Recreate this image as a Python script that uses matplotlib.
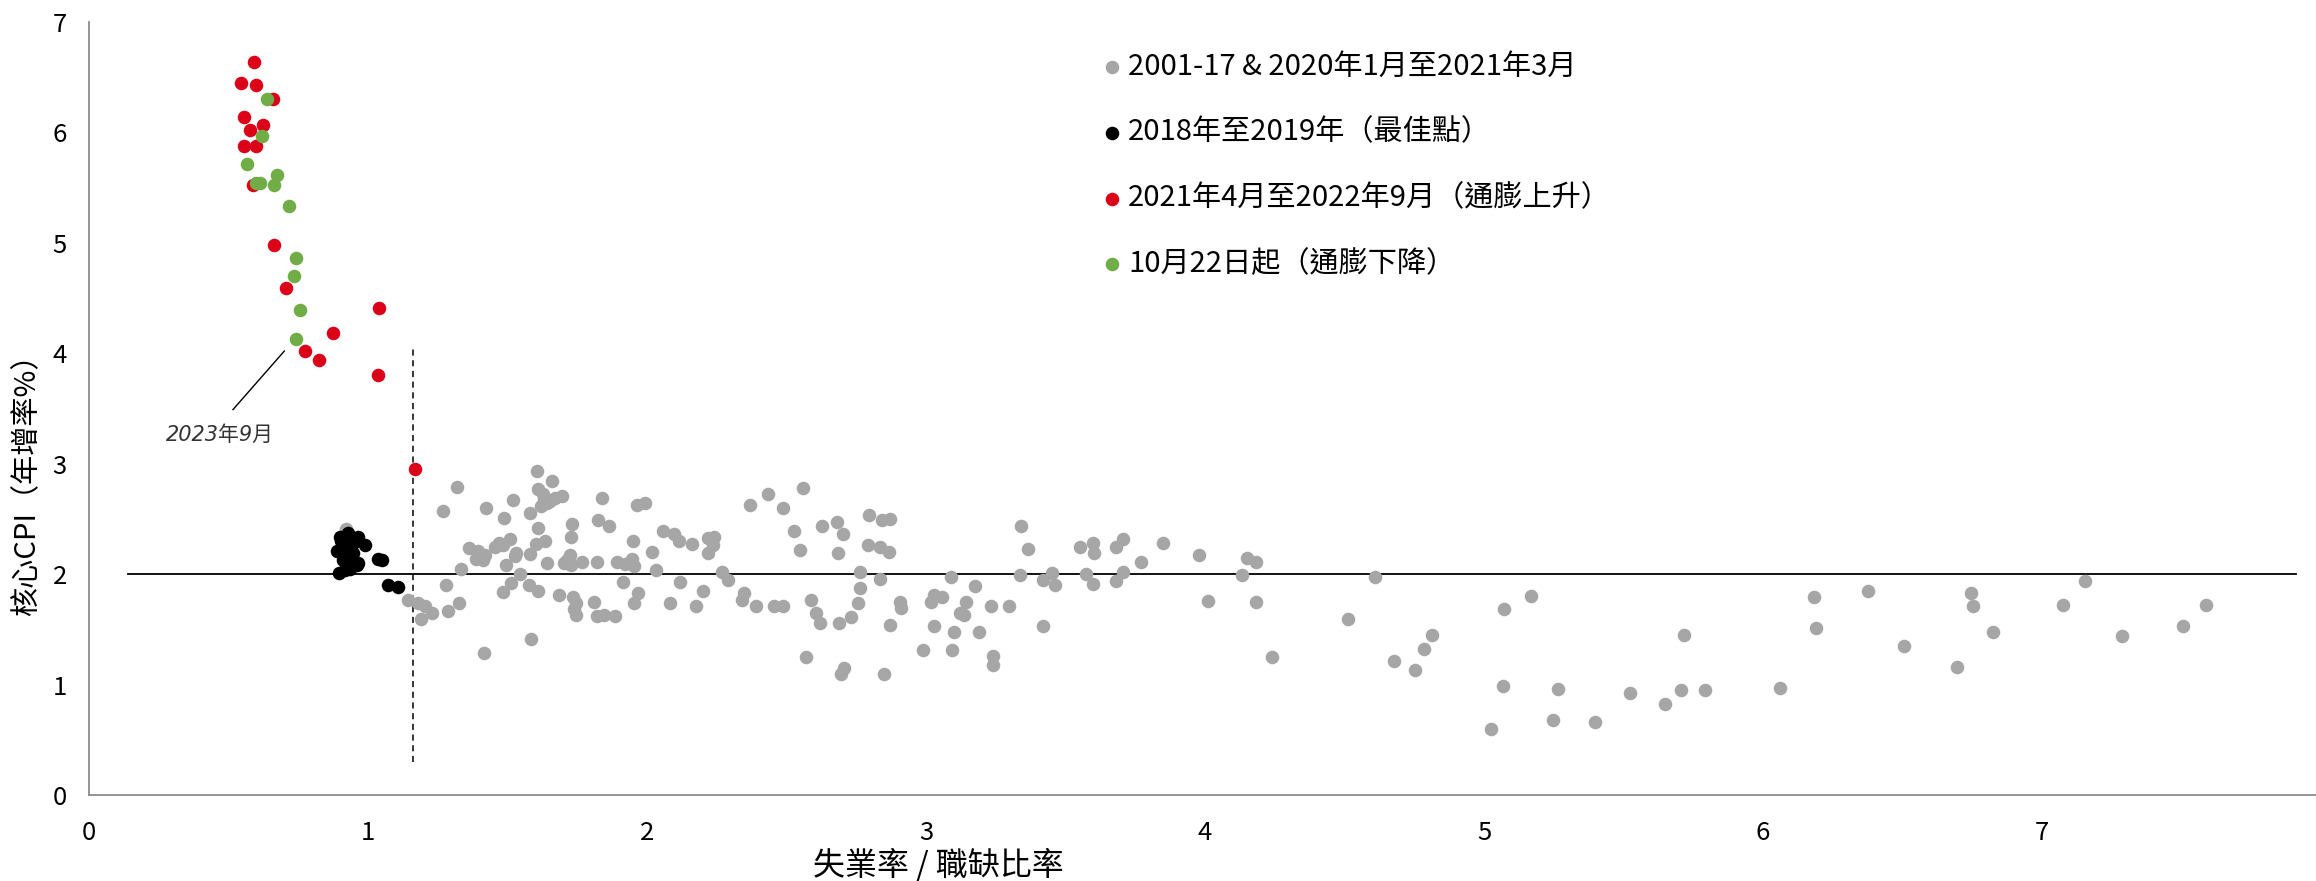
import matplotlib
matplotlib.use('Agg')
import matplotlib.pyplot as plt

# 字體：中文用 Noto Sans CJK TC，缺字時退回 DejaVu Sans
plt.rcParams['font.family'] = ['Noto Sans CJK TC', 'DejaVu Sans']
plt.rcParams['axes.unicode_minus'] = False

# 2001-17 & 2020年1月至2021年3月（灰）
gray_x = [0.92, 1.144, 1.180, 1.191, 1.205, 1.228, 1.268, 1.279, 1.287, 1.320, 1.327, 1.334,
          1.363, 1.393, 1.386, 1.411, 1.420, 1.416, 1.424, 1.454, 1.468, 1.485,
          1.485, 1.489, 1.493, 1.509, 1.514, 1.520, 1.527, 1.530, 1.545, 1.578, 1.582, 1.582,
          1.585, 1.603, 1.633, 1.608, 1.609, 1.607, 1.608, 1.626,
          1.619, 1.640, 1.654, 1.670, 1.695, 1.630,
          1.642, 1.659, 1.685, 1.701, 1.725, 1.729, 1.715, 1.726, 1.732,
          1.733, 1.745, 1.740, 1.745, 1.767, 1.811, 1.819, 1.845, 1.885, 1.821, 1.825, 1.837, 1.863,
          1.894, 1.921, 1.948, 1.955, 1.913, 1.950, 1.955, 1.966, 1.965, 1.992, 2.017, 2.032,
          2.058, 2.083, 2.096, 2.113, 2.118, 2.161, 2.177, 2.201,
          2.22, 2.24, 2.235, 2.22, 2.268, 2.289, 2.339, 2.349, 2.369, 2.391, 2.435, 2.456,
          2.487, 2.489, 2.527, 2.549, 2.559, 2.570, 2.589, 2.607, 2.620, 2.627, 2.680, 2.685,
          2.689, 2.696, 2.705, 2.703, 2.730, 2.758, 2.762, 2.762, 2.792, 2.796, 2.836, 2.867,
          2.836, 2.844, 2.871, 2.851, 2.871, 2.908, 2.911, 2.988, 3.018, 3.030, 3.057, 3.030,
          3.091, 3.094, 3.100, 3.121, 3.135, 3.142, 3.176, 3.19,
          3.232, 3.239, 3.239, 3.299, 3.336, 3.342, 3.365, 3.418, 3.462, 3.450, 3.420, 3.552,
          3.575, 3.597, 3.603, 3.600, 3.68, 3.705, 3.68, 3.705, 3.772, 3.848, 3.980, 4.010,
          4.132, 4.150, 4.182, 4.184, 4.239, 4.513, 4.608, 4.676, 4.752, 4.786, 4.814,
          5.025, 5.067, 5.072, 5.170, 5.249, 5.264, 5.398, 5.524, 5.647, 5.706, 5.716, 5.792,
          6.060, 6.183, 6.189, 6.376, 6.506, 6.696, 6.747, 6.753, 6.824, 7.075, 7.155, 7.287,
          7.506, 7.588]
gray_y = [2.41, 1.77, 1.74, 1.59, 1.71, 1.65, 2.57, 1.90, 1.67, 2.79, 1.74, 2.05,
          2.24, 2.21, 2.14, 2.13, 2.17, 1.29, 2.60, 2.25, 2.28, 2.26,
          1.84, 2.51, 2.08, 2.32, 1.92, 2.67, 2.16, 2.19, 2.00, 1.90, 2.55, 2.18,
          1.41, 2.27, 2.30, 1.85, 2.42, 2.93, 2.77, 2.73,
          2.62, 2.64, 2.66, 2.69, 2.71, 2.68,
          2.10, 2.84, 1.81, 2.10, 2.17, 2.08, 2.13, 2.34, 2.45,
          1.79, 1.74, 1.68, 1.63, 2.11, 1.75, 1.62, 1.63, 1.62, 2.11, 2.49, 2.69, 2.44,
          2.11, 2.09, 2.14, 2.07, 1.93, 2.30, 1.74, 1.83, 2.63, 2.64, 2.20, 2.04,
          2.39, 1.74, 2.36, 2.30, 1.93, 2.27, 1.71, 1.85,
          2.33, 2.34, 2.26, 2.19, 2.02, 1.95, 1.77, 1.83, 2.63, 1.71, 2.73, 1.71,
          1.71, 2.60, 2.39, 2.22, 2.78, 1.25, 1.77, 1.65, 1.56, 2.44, 2.47, 2.19,
          1.56, 1.10, 1.15, 2.36, 1.61, 1.74, 1.87, 2.02, 2.26, 2.54, 2.25, 2.20,
          1.96, 2.49, 2.50, 1.10, 1.54, 1.75, 1.69, 1.31, 1.75, 1.81, 1.79, 1.53,
          1.97, 1.31, 1.48, 1.65, 1.63, 1.75, 1.89, 1.48,
          1.71, 1.26, 1.18, 1.71, 1.99, 2.44, 2.23, 1.95, 1.90, 2.01, 1.53, 2.25,
          2.00, 2.28, 2.19, 1.91, 2.25, 2.32, 1.94, 2.02, 2.11, 2.28, 2.17, 1.76,
          1.99, 2.15, 2.11, 1.75, 1.25, 1.59, 1.97, 1.21, 1.13, 1.32, 1.45,
          0.60, 0.99, 1.68, 1.80, 0.68, 0.96, 0.66, 0.92, 0.82, 0.95, 1.45, 0.95,
          0.97, 1.79, 1.51, 1.85, 1.35, 1.16, 1.83, 1.71, 1.48, 1.72, 1.94, 1.44,
          1.53, 1.72]

# 2018年至2019年（黑）
black_x = [0.900, 0.930, 0.965, 0.989, 0.888, 0.918, 0.947, 0.935, 0.924, 0.912, 0.965, 0.953,
           0.960, 0.897, 0.935, 0.917, 0.930, 1.037, 1.049, 1.073, 1.106, 0.905, 0.945, 0.940]
black_y = [2.34, 2.37, 2.34, 2.26, 2.21, 2.25, 2.19, 2.17, 2.13, 2.13, 2.10, 2.10,
           2.08, 2.01, 2.05, 2.04, 2.06, 2.14, 2.13, 1.90, 1.88, 2.30, 2.28, 2.11]

# 2021年4月至2022年9月（紅）
red_x = [0.591, 0.544, 0.599, 0.658, 0.557, 0.625, 0.577, 0.557, 0.597, 0.587,
         0.663, 0.706, 1.041, 0.875, 0.774, 0.826, 1.037, 1.168]
red_y = [6.64, 6.45, 6.43, 6.30, 6.14, 6.07, 6.02, 5.88, 5.88, 5.52,
         4.98, 4.59, 4.41, 4.18, 4.02, 3.94, 3.80, 2.95]

# 10月22日起（綠）
green_x = [0.637, 0.621, 0.565, 0.673, 0.599, 0.613, 0.663, 0.718, 0.741, 0.735, 0.755, 0.743]
green_y = [6.30, 5.97, 5.71, 5.61, 5.54, 5.54, 5.52, 5.33, 4.86, 4.70, 4.39, 4.13]

labels = ['2001-17 & 2020年1月至2021年3月',
          '2018年至2019年（最佳點）',
          '2021年4月至2022年9月（通膨上升）',
          '10月22日起（通膨下降）']
colors = ['#A6A6A6', '#000000', '#DC0018', '#70AD47']

fig = plt.figure(figsize=(23.16, 8.81), dpi=100)
ax = fig.add_axes([89 / 2316, 86 / 881, 1 - 89 / 2316, (795 - 22) / 881])

s = 95
ax.scatter(gray_x, gray_y, s=s, c=colors[0], linewidths=0, label=labels[0], zorder=3)
ax.scatter(black_x, black_y, s=s, c=colors[1], linewidths=0, label=labels[1], zorder=4)
ax.scatter(red_x, red_y, s=s, c=colors[2], linewidths=0, label=labels[2], zorder=5)
ax.scatter(green_x, green_y, s=s, c=colors[3], linewidths=0, label=labels[3], zorder=6)

# 2% 目標線與分界虛線
ax.plot([0.14, 7.91], [2, 2], color='black', lw=1.3, zorder=2)
ax.plot([1.16, 1.16], [0.30, 4.05], color='black', lw=1.1, ls=(0, (4, 3)), zorder=2)

# 2023年9月 標註
ax.plot([0.70, 0.516], [4.02, 3.49], color='black', lw=1.0, zorder=2)
ax.text(0.47, 3.26, '2023年9月', fontsize=15, color='#333333', style='italic',
        ha='center', va='center', family=['DejaVu Sans', 'Noto Sans CJK TC'])

ax.set_xlim(0, (2316 - 89) / 279)
ax.set_ylim(0, 7)
ax.set_xticks(range(0, 8))
ax.set_yticks(range(0, 8))
ax.tick_params(length=0, labelsize=18.5, pad=16)
ax.tick_params(axis='x', pad=18)

for side in ['top', 'right']:
    ax.spines[side].set_visible(False)
for side in ['left', 'bottom']:
    ax.spines[side].set_color('#8C8C8C')
    ax.spines[side].set_linewidth(1.3)

ax.set_xlabel('失業率 / 職缺比率', fontsize=23)
ax.xaxis.set_label_coords((938 - 89) / 2227, -0.068)
ax.set_ylabel('核心CPI（年增率%）', fontsize=21, va='center')
ax.yaxis.set_label_coords((27 - 89) / 2227, 0.411)

ax.legend(loc='upper left', bbox_to_anchor=(1105 / 2316, 1 - 52 / 881),
          bbox_transform=fig.transFigure, frameon=False, fontsize=21,
          handlelength=0.5, handletextpad=0.3, borderpad=0, borderaxespad=0,
          labelspacing=1.22, markerscale=1.0)

fig.savefig('out.png', dpi=100)
